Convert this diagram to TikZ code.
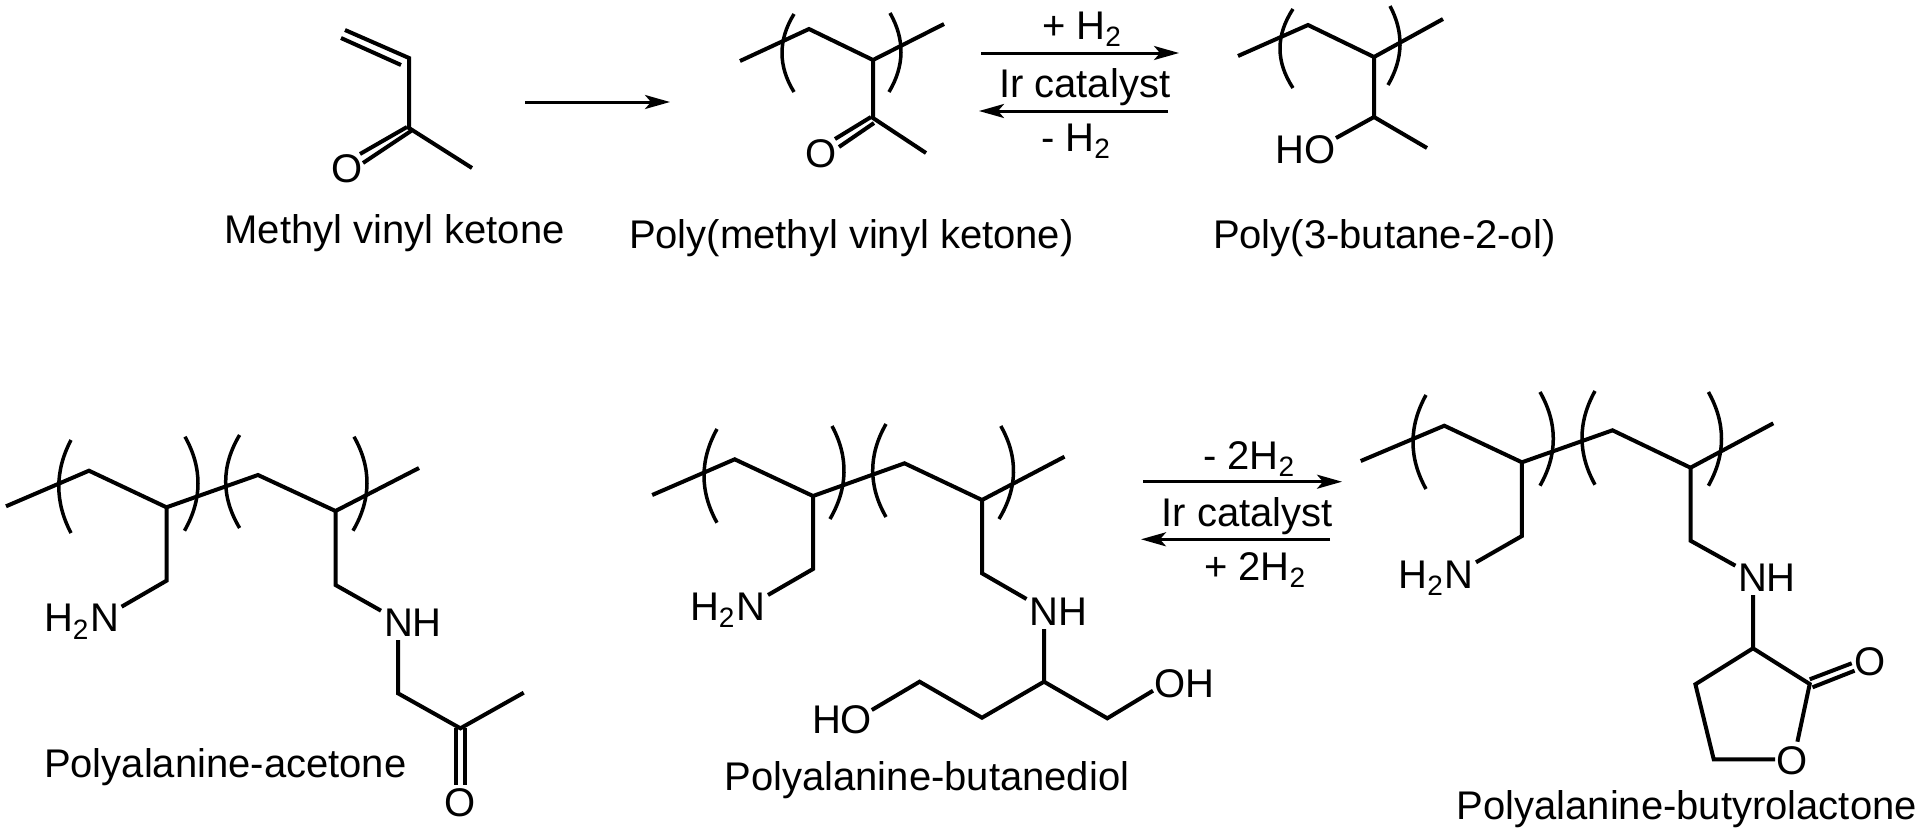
\documentclass[tikz,border=0pt]{standalone}
\usepackage{fontspec}
\setmainfont{Liberation Sans}
\usetikzlibrary{arrows.meta}
\newcommand{\sbt}[1]{\raisebox{-7.5pt}{\fontsize{28}{28}\selectfont #1}}
% bracket: start (x1,y1), bulge x at mid height, end (x2,y2); drawn as a parabola
\newcommand{\brk}[5]{\draw[brk] (#1,#2) .. controls ({#1/3+(2/3)*(2*#3-(#1+#4)/2)},{#2/3+(2/3)*(#2+#5)/2}) and ({#4/3+(2/3)*(2*#3-(#1+#4)/2)},{#5/3+(2/3)*(#2+#5)/2}) .. (#4,#5);}
\tikzset{
  bond/.style={line width=4pt},
  brk/.style={line width=3.5pt},
  rxn/.style={line width=3pt,-{Stealth[length=25pt,width=14pt,inset=6pt]}},
  lbl/.style={inner sep=0pt,outer sep=0pt,anchor=base west,font=\fontsize{40}{40}\selectfont}
}
\begin{document}
\begin{tikzpicture}[x=1pt,y=-1pt]
\useasboundingbox (0,0) rectangle (1917,833);
% --- Methyl vinyl ketone
\coordinate (a1) at (345,30); \coordinate (a1b) at (341,38);
\coordinate (a2) at (409,58); \coordinate (a2b) at (401,65);
\coordinate (a3) at (409,128); \coordinate (a4) at (472,168);
\coordinate (a5) at (407,127); \coordinate (a6) at (360,154);
\coordinate (a7) at (411,131); \coordinate (a8) at (363,163);
\draw[bond] (a1)--(a2)--(a3)--(a4);
\draw[bond] (a1b)--(a2b);
\draw[bond] (a5)--(a6); \draw[bond] (a7)--(a8);
\node[lbl] (aO) at (331.4,182) {O};
\node[lbl] (aT) at (224.5,243.3) {Methyl vinyl ketone};
% arrow 1
\coordinate (r1s) at (525,102); \coordinate (r1e) at (670,102);
\draw[rxn] (r1s)--(r1e);
% --- Poly(methyl vinyl ketone)
\coordinate (b1) at (740,61); \coordinate (b2) at (809,29); \coordinate (b3) at (873,60);
\coordinate (b4) at (944,24); \coordinate (b5) at (873,118); \coordinate (b6) at (926,153);
\coordinate (b7) at (871,117); \coordinate (b8) at (835,139);
\coordinate (b9) at (874,123); \coordinate (b10) at (839,147);
\draw[bond] (b1)--(b2)--(b3)--(b4);
\draw[bond] (b3)--(b5)--(b6);
\draw[bond] (b7)--(b8); \draw[bond] (b9)--(b10);
\brk{794}{14}{782}{794}{92}
\brk{890}{13}{901}{889}{92}
\node[lbl] (bO) at (805.4,167) {O};
\node[lbl] (bT) at (629,248) {Poly(methyl vinyl ketone)};
% equilibrium arrows 1
\coordinate (r2s) at (981,53); \coordinate (r2e) at (1179,53);
\coordinate (r3s) at (1168,111); \coordinate (r3e) at (979,111);
\draw[rxn] (r2s)--(r2e);
\draw[rxn] (r3s)--(r3e);
\node[lbl] (r2a) at (1042,39) {+ H\sbt{2}};
\node[lbl] (r2b) at (999,97) {Ir catalyst};
\node[lbl] (r2c) at (1041,151) {- H\sbt{2}};
% --- Poly(3-butane-2-ol)
\coordinate (c1) at (1238,56); \coordinate (c2) at (1308,25); \coordinate (c3) at (1374,57);
\coordinate (c4) at (1443,19); \coordinate (c5) at (1374,117); \coordinate (c6) at (1336,138);
\coordinate (c7) at (1427,148);
\draw[bond] (c1)--(c2)--(c3)--(c4);
\draw[bond] (c3)--(c5)--(c6);
\draw[bond] (c5)--(c7);
\brk{1293}{9}{1280}{1293}{88}
\brk{1390}{6}{1400}{1388}{85}
\node[lbl] (cHO) at (1275.5,163) {HO};
\node[lbl] (cT) at (1213,248) {Poly(3-butane-2-ol)};
% --- Polyalanine-acetone
\coordinate (d1) at (6,506.3); \coordinate (d2) at (89,470.7); \coordinate (d3) at (166.5,507.3);
\coordinate (d4) at (258,475); \coordinate (d5) at (335.5,511); \coordinate (d6) at (419,468);
\coordinate (d7) at (166.5,580.7); \coordinate (d8) at (121.6,606.7);
\coordinate (d9) at (335.5,585); \coordinate (d10) at (381,610.7);
\coordinate (d11) at (398,640); \coordinate (d12) at (398,693.3);
\coordinate (d13) at (460.4,728.3); \coordinate (d14) at (523.7,692.7);
\coordinate (d15) at (456,728); \coordinate (d16) at (456,785);
\coordinate (d17) at (465.3,728); \coordinate (d18) at (465.3,785);
\draw[bond] (d1)--(d2)--(d3)--(d4)--(d5)--(d6);
\draw[bond] (d3)--(d7)--(d8);
\draw[bond] (d5)--(d9)--(d10);
\draw[bond] (d11)--(d12)--(d13)--(d14);
\draw[bond] (d15)--(d16); \draw[bond] (d17)--(d18);
\brk{71}{440}{58.8}{71}{533}
\brk{185}{436.7}{198}{184.5}{530.7}
\brk{239.6}{435}{225.7}{239.6}{528}
\brk{354}{436.7}{367}{353}{530.7}
\node[lbl] (dN1) at (44,631.7) {H\sbt{2}\kern2pt N};
\node[lbl] (dN2) at (384,636.7) {NH};
\node[lbl] (dO) at (444.8,816) {O};
\node[lbl] (dT) at (44,777) {Polyalanine-acetone};
% --- Polyalanine-butanediol
\coordinate (e1) at (652.2,495); \coordinate (e2) at (734.7,459.3); \coordinate (e3) at (813,496);
\coordinate (e4) at (904.5,463.3); \coordinate (e5) at (982,500); \coordinate (e6) at (1064.5,456.7);
\coordinate (e7) at (813,569); \coordinate (e8) at (768,595);
\coordinate (e9) at (982,573.3); \coordinate (e10) at (1026.5,599);
\coordinate (e11) at (1044,629); \coordinate (e12) at (1044,681.7);
\coordinate (e13) at (982,717.7); \coordinate (e14) at (919.6,681.7); \coordinate (e15) at (871.8,710);
\coordinate (e16) at (1107.3,718.3); \coordinate (e17) at (1153,690.7);
\draw[bond] (e1)--(e2)--(e3)--(e4)--(e5)--(e6);
\draw[bond] (e3)--(e7)--(e8);
\draw[bond] (e5)--(e9)--(e10);
\draw[bond] (e11)--(e12)--(e13)--(e14)--(e15);
\draw[bond] (e12)--(e16)--(e17);
\brk{717}{429}{704}{717}{522.7}
\brk{832}{426}{844}{830}{519}
\brk{886}{424}{872.7}{886}{517}
\brk{1000.8}{426}{1013.5}{999}{519}
\node[lbl] (eN1) at (690,620) {H\sbt{2}\kern2pt N};
\node[lbl] (eN2) at (1029.7,625) {NH};
\node[lbl] (eHO) at (812,733) {HO};
\node[lbl] (eOH) at (1154,697.3) {OH};
\node[lbl] (eT) at (724.5,790.7) {Polyalanine-butanediol};
% equilibrium arrows 2
\coordinate (r4s) at (1143,481.7); \coordinate (r4e) at (1342,481.7);
\coordinate (r5s) at (1330,539.3); \coordinate (r5e) at (1141,539.3);
\draw[rxn] (r4s)--(r4e);
\draw[rxn] (r5s)--(r5e);
\node[lbl] (r4a) at (1203,469) {- 2H\sbt{2}};
\node[lbl] (r4b) at (1161.5,526) {Ir catalyst};
\node[lbl] (r4c) at (1204,580) {+ 2H\sbt{2}};
% --- Polyalanine-butyrolactone
\coordinate (f1) at (1360.7,461); \coordinate (f2) at (1444.3,425.7); \coordinate (f3) at (1521.9,462.3);
\coordinate (f4) at (1612.5,430.3); \coordinate (f5) at (1690.5,467.7); \coordinate (f6) at (1773.3,423.3);
\coordinate (f7) at (1521.9,536); \coordinate (f8) at (1476,562.3);
\coordinate (f9) at (1690.5,540.7); \coordinate (f10) at (1735.4,565.7);
\coordinate (f11) at (1753,595); \coordinate (f12) at (1753,648.3);
\coordinate (f13) at (1809.7,684); \coordinate (f14) at (1797.4,741.7);
\coordinate (f15) at (1695.4,684.3); \coordinate (f16) at (1713.7,759.3); \coordinate (f17) at (1775,759.3);
\coordinate (f18) at (1809.7,679.3); \coordinate (f19) at (1851.7,663.3);
\coordinate (f20) at (1812.5,687.3); \coordinate (f21) at (1854.6,670.7);
\draw[bond] (f1)--(f2)--(f3)--(f4)--(f5)--(f6);
\draw[bond] (f3)--(f7)--(f8);
\draw[bond] (f5)--(f9)--(f10);
\draw[bond] (f11)--(f12)--(f13)--(f14);
\draw[bond] (f12)--(f15)--(f16)--(f17);
\draw[bond] (f18)--(f19); \draw[bond] (f20)--(f21);
\brk{1426}{395}{1413}{1426}{489}
\brk{1540}{392}{1553.3}{1540}{485.7}
\brk{1595}{391}{1582}{1595}{484.7}
\brk{1708.4}{392}{1721.5}{1708.4}{485.7}
\node[lbl] (fN1) at (1398.5,588.3) {H\sbt{2}\kern2pt N};
\node[lbl] (fN2) at (1738,591.7) {NH};
\node[lbl] (fO1) at (1776.4,774) {O};
\node[lbl] (fO2) at (1854.4,675) {O};
\node[lbl] (fT) at (1456.6,819.3) {Polyalanine-butyrolactone};
\end{tikzpicture}
\end{document}
